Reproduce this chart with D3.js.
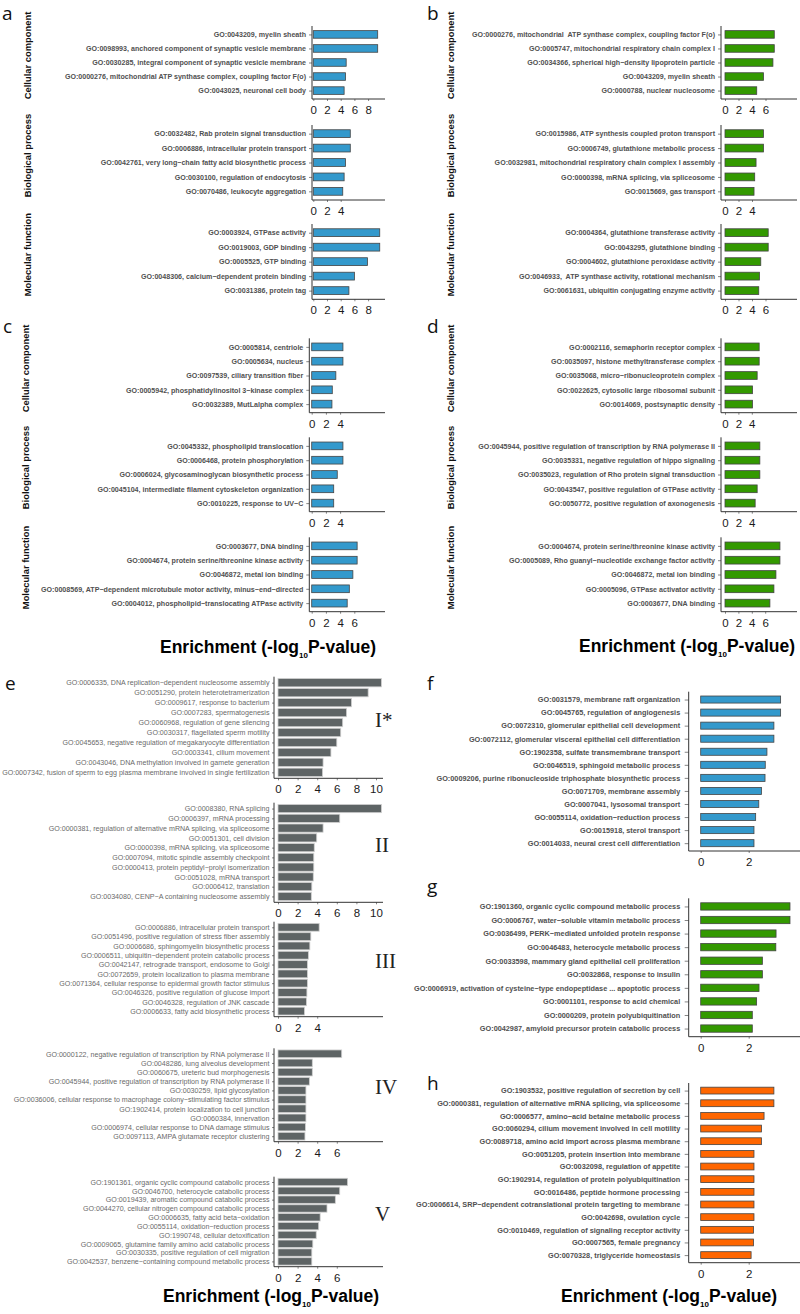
<!DOCTYPE html>
<html>
<head>
<meta charset="utf-8">
<script src="https://cdn.jsdelivr.net/npm/d3@7"></script>
<style>
  body { margin: 0; background: #fff; }
  svg text { font-family: "Liberation Sans", Arial, sans-serif; }
</style>
</head>
<body>
<div id="chart"></div>
<script>
// ---- data: GO term labels and enrichment values (-log10 P) ----
const facetNames = ["Cellular component", "Biological process", "Molecular function"];
const romanLabels = ["I*", "II", "III", "IV", "V"];

const aCC = ["GO:0043209, myelin sheath", "GO:0098993, anchored component of synaptic vesicle membrane", "GO:0030285, integral component of synaptic vesicle membrane", "GO:0000276, mitochondrial ATP synthase complex, coupling factor F(o)", "GO:0043025, neuronal cell body"];
const aCCVal = [9.4, 9.4, 4.8, 4.7, 4.5];
const aBP = ["GO:0032482, Rab protein signal transduction", "GO:0006886, intracellular protein transport", "GO:0042761, very long−chain fatty acid biosynthetic process", "GO:0030100, regulation of endocytosis", "GO:0070486, leukocyte aggregation"];
const aBPVal = [5.4, 5.4, 4.7, 4.5, 4.3];
const aMF = ["GO:0003924, GTPase activity", "GO:0019003, GDP binding", "GO:0005525, GTP binding", "GO:0048306, calcium−dependent protein binding", "GO:0031386, protein tag"];
const aMFVal = [9.7, 9.7, 7.9, 6.0, 5.2];

const bCC = ["GO:0000276, mitochondrial  ATP synthase complex, coupling factor F(o)", "GO:0005747, mitochondrial respiratory chain complex I", "GO:0034366, spherical high−density lipoprotein particle", "GO:0043209, myelin sheath", "GO:0000788, nuclear nucleosome"];
const bCCVal = [7.3, 7.3, 7.1, 5.7, 4.7];
const bBP = ["GO:0015986, ATP synthesis coupled proton transport", "GO:0006749, glutathione metabolic process", "GO:0032981, mitochondrial respiratory chain complex I assembly", "GO:0000398, mRNA splicing, via spliceosome", "GO:0015669, gas transport"];
const bBPVal = [5.7, 5.7, 4.6, 4.4, 4.3];
const bMF = ["GO:0004364, glutathione transferase activity", "GO:0043295, glutathione binding", "GO:0004602, glutathione peroxidase activity", "GO:0046933,  ATP synthase activity, rotational mechanism", "GO:0061631, ubiquitin conjugating enzyme activity"];
const bMFVal = [6.4, 6.4, 5.3, 5.1, 5.0];

const cCC = ["GO:0005814, centriole", "GO:0005634, nucleus", "GO:0097539, ciliary transition fiber", "GO:0005942, phosphatidylinositol 3−kinase complex", "GO:0032389, MutLalpha complex"];
const cCCVal = [4.4, 4.4, 3.4, 2.9, 2.85];
const cBP = ["GO:0045332, phospholipid translocation", "GO:0006468, protein phosphorylation", "GO:0006024, glycosaminoglycan biosynthetic process", "GO:0045104, intermediate filament cytoskeleton organization", "GO:0010225, response to UV−C"];
const cBPVal = [4.4, 4.4, 3.6, 3.1, 3.1];
const cMF = ["GO:0003677, DNA binding", "GO:0004674, protein serine/threonine kinase activity", "GO:0046872, metal ion binding", "GO:0008569, ATP−dependent microtubule motor activity, minus−end−directed", "GO:0004012, phospholipid−translocating ATPase activity"];
const cMFVal = [6.4, 6.4, 5.8, 5.3, 5.0];

const dCC = ["GO:0002116, semaphorin receptor complex", "GO:0035097, histone methyltransferase complex", "GO:0035068, micro−ribonucleoprotein complex", "GO:0022625, cytosolic large ribosomal subunit", "GO:0014069, postsynaptic density"];
const dCCVal = [5.1, 5.1, 4.8, 4.1, 4.1];
const dBP = ["GO:0045944, positive regulation of transcription by RNA polymerase II", "GO:0035331, negative regulation of hippo signaling", "GO:0035023, regulation of Rho protein signal transduction", "GO:0043547, positive regulation of GTPase activity", "GO:0050772, positive regulation of axonogenesis"];
const dBPVal = [5.2, 5.2, 5.2, 4.8, 4.5];
const dMF = ["GO:0004674, protein serine/threonine kinase activity", "GO:0005089, Rho guanyl−nucleotide exchange factor activity", "GO:0046872, metal ion binding", "GO:0005096, GTPase activator activity", "GO:0003677, DNA binding"];
const dMFVal = [8.2, 8.2, 7.6, 7.3, 6.7];

const eI = ["GO:0006335, DNA replication−dependent nucleosome assembly", "GO:0051290, protein heterotetramerization", "GO:0009617, response to bacterium", "GO:0007283, spermatogenesis", "GO:0060968, regulation of gene silencing", "GO:0030317, flagellated sperm motility", "GO:0045653, negative regulation of megakaryocyte differentiation", "GO:0003341, cilium movement", "GO:0043046, DNA methylation involved in gamete generation", "GO:0007342, fusion of sperm to egg plasma membrane involved in single fertilization"];
const eIVal = [10.55, 9.2, 7.5, 7.0, 6.6, 6.4, 6.0, 5.4, 4.6, 4.55];
const eII = ["GO:0008380, RNA splicing", "GO:0006397, mRNA processing", "GO:0000381, regulation of alternative mRNA splicing, via spliceosome", "GO:0051301, cell division", "GO:0000398, mRNA splicing, via spliceosome", "GO:0007094, mitotic spindle assembly checkpoint", "GO:0000413, protein peptidyl−prolyl isomerization", "GO:0051028, mRNA transport", "GO:0006412, translation", "GO:0034080, CENP−A containing nucleosome assembly"];
const eIIVal = [10.55, 6.3, 4.6, 3.95, 3.7, 3.65, 3.65, 3.6, 3.45, 3.4];
const eIII = ["GO:0006886, intracellular protein transport", "GO:0051496, positive regulation of stress fiber assembly", "GO:0006686, sphingomyelin biosynthetic process", "GO:0006511, ubiquitin−dependent protein catabolic process", "GO:0042147, retrograde transport, endosome to Golgi", "GO:0072659, protein localization to plasma membrane", "GO:0071364, cellular response to epidermal growth factor stimulus", "GO:0046326, positive regulation of glucose import", "GO:0046328, regulation of JNK cascade", "GO:0006633, fatty acid biosynthetic process"];
const eIIIVal = [4.2, 3.35, 3.25, 3.1, 3.0, 3.0, 3.0, 2.95, 2.9, 2.7];
const eIV = ["GO:0000122, negative regulation of transcription by RNA polymerase II", "GO:0048286, lung alveolus development", "GO:0060675, ureteric bud morphogenesis", "GO:0045944, positive regulation of transcription by RNA polymerase II", "GO:0030259, lipid glycosylation", "GO:0036006, cellular response to macrophage colony−stimulating factor stimulus", "GO:1902414, protein localization to cell junction", "GO:0060384, innervation", "GO:0006974, cellular response to DNA damage stimulus", "GO:0097113, AMPA glutamate receptor clustering"];
const eIVVal = [6.5, 3.5, 3.5, 3.2, 2.85, 2.85, 2.85, 2.85, 2.8, 2.75];
const eV = ["GO:1901361, organic cyclic compound catabolic process", "GO:0046700, heterocycle catabolic process", "GO:0019439, aromatic compound catabolic process", "GO:0044270, cellular nitrogen compound catabolic process", "GO:0006635, fatty acid beta−oxidation", "GO:0055114, oxidation−reduction process", "GO:1990748, cellular detoxification", "GO:0009065, glutamine family amino acid catabolic process", "GO:0030335, positive regulation of cell migration", "GO:0042537, benzene−containing compound metabolic process"];
const eVVal = [7.1, 6.3, 5.85, 5.0, 4.3, 4.15, 3.9, 3.55, 3.45, 3.45];

const fTerms = ["GO:0031579, membrane raft organization", "GO:0045765, regulation of angiogenesis", "GO:0072310, glomerular epithelial cell development", "GO:0072112, glomerular visceral epithelial cell differentiation", "GO:1902358, sulfate transmembrane transport", "GO:0046519, sphingoid metabolic process", "GO:0009206, purine ribonucleoside triphosphate biosynthetic process", "GO:0071709, membrane assembly", "GO:0007041, lysosomal transport", "GO:0055114, oxidation−reduction process", "GO:0015918, sterol transport", "GO:0014033, neural crest cell differentiation"];
const fVal = [3.33, 3.33, 3.05, 3.05, 2.76, 2.69, 2.68, 2.53, 2.42, 2.29, 2.22, 2.22];
const gTerms = ["GO:1901360, organic cyclic compound metabolic process", "GO:0006767, water−soluble vitamin metabolic process", "GO:0036499, PERK−mediated unfolded protein response", "GO:0046483, heterocycle metabolic process", "GO:0033598, mammary gland epithelial cell proliferation", "GO:0032868, response to insulin", "GO:0006919, activation of cysteine−type endopeptidase ... apoptotic process", "GO:0001101, response to acid chemical", "GO:0000209, protein polyubiquitination", "GO:0042987, amyloid precursor protein catabolic process"];
const gVal = [3.72, 3.72, 3.14, 3.13, 2.57, 2.57, 2.43, 2.33, 2.15, 2.15];
const hTerms = ["GO:1903532, positive regulation of secretion by cell", "GO:0000381, regulation of alternative mRNA splicing, via spliceosome", "GO:0006577, amino−acid betaine metabolic process", "GO:0060294, cilium movement involved in cell motility", "GO:0089718, amino acid import across plasma membrane", "GO:0051205, protein insertion into membrane", "GO:0032098, regulation of appetite", "GO:1902914, regulation of protein polyubiquitination", "GO:0016486, peptide hormone processing", "GO:0006614, SRP−dependent cotranslational protein targeting to membrane", "GO:0042698, ovulation cycle", "GO:0010469, regulation of signaling receptor activity", "GO:0007565, female pregnancy", "GO:0070328, triglyceride homeostasis"];
const hVal = [3.05, 3.05, 2.64, 2.53, 2.53, 2.22, 2.22, 2.22, 2.22, 2.22, 2.22, 2.2, 2.2, 2.1];

const ticksA = [[0, 2, 4, 6, 8], [0, 2, 4], [0, 2, 4, 6, 8]];
const ticksB = [[0, 2, 4, 6], [0, 2, 4], [0, 2, 4, 6]];
const ticksC = [[0, 2, 4], [0, 2, 4], [0, 2, 4, 6]];
const ticksD = [[0, 2, 4], [0, 2, 4], [0, 2, 4, 6]];
const ticksE = [[0, 2, 4, 6, 8, 10], [0, 2, 4, 6, 8, 10], [0, 2, 4], [0, 2, 4, 6], [0, 2, 4, 6]];
const ticksFGH = [0, 2];

// ---- styles ----
const blue = "#3399cc", green = "#339900", orange = "#ff6600", grey = "#5e6465";
const boldStyle = { fontSize: 7.1, weight: "bold", textFill: "#505050", tickLen: 3, pad: 3, barFrac: 0.54, stroke: "#444", sw: 0.8 };
const lightStyle = { fontSize: 7.1, weight: "normal", textFill: "#6a6a6a", tickLen: 2, pad: 2.5, barFrac: 0.84, stroke: "#d0d0d0", sw: 0.8 };
const fghStyle = Object.assign({}, boldStyle, { fontSize: 7.3, tickLen: 4, pad: 4.5 });

const svg = d3.select("#chart").append("svg")
  .attr("width", 800)
  .attr("height", 1314);

function drawPlot(p) {
  const y = d3.scalePoint().domain(p.labels).range([p.top, p.bottom]).padding(0.6);
  const x = d3.scaleLinear().domain([0, 1]).range([p.x0, p.x0 + p.ppu]);
  const bh = y.step() * p.barFrac;
  const g = svg.append("g");

  g.append("g").selectAll("rect")
    .data(p.values)
    .join("rect")
    .attr("x", x(0))
    .attr("y", (d, i) => y(p.labels[i]) - bh / 2)
    .attr("width", d => x(d) - x(0))
    .attr("height", bh)
    .attr("fill", p.color)
    .attr("stroke", p.stroke)
    .attr("stroke-width", p.sw);

  const left = g.append("g")
    .attr("transform", "translate(" + p.axisX + ",0)")
    .call(d3.axisLeft(y).tickSize(p.tickLen).tickPadding(p.pad));
  left.select(".domain").remove();
  left.selectAll("line").attr("stroke", "#333").attr("stroke-width", 0.6);
  left.selectAll("text")
    .attr("font-size", p.fontSize)
    .attr("font-weight", p.weight)
    .attr("fill", p.textFill)
    .style("white-space", "pre");

  const bottom = g.append("g")
    .attr("transform", "translate(0," + p.bottom + ")")
    .call(d3.axisBottom(x).tickValues(p.ticks).tickSize(2).tickPadding(5).tickFormat(d3.format("d")));
  bottom.select(".domain").remove();
  bottom.selectAll("line").attr("stroke", "#333").attr("stroke-width", 0.6);
  bottom.selectAll("text")
    .attr("font-size", 11.5)
    .attr("fill", "#1a1a1a");

  g.append("line")
    .attr("x1", p.axisX).attr("x2", p.axisX)
    .attr("y1", p.top).attr("y2", p.bottom)
    .attr("stroke", "#333").attr("stroke-width", 1);
  g.append("line")
    .attr("x1", p.axisX).attr("x2", p.right)
    .attr("y1", p.bottom).attr("y2", p.bottom)
    .attr("stroke", "#333").attr("stroke-width", 1);
}

function panelLetter(txt, x, y) {
  svg.append("text").attr("x", x).attr("y", y)
    .style("font-family", "'Open Sans', sans-serif")
    .attr("font-size", 19)
    .attr("fill", "#111")
    .text(txt);
}

function axisTitle(x, y) {
  const t = svg.append("text").attr("x", x).attr("y", y)
    .attr("font-weight", "bold")
    .attr("font-size", 17.5)
    .attr("fill", "#000");
  t.append("tspan").text("Enrichment (-log");
  t.append("tspan").attr("dy", 5).attr("font-size", 8).text("10");
  t.append("tspan").attr("dy", -5).text("P-value)");
}

// panels a-d: three GO categories each
const gridPanels = [
  { letter: "a", lx: 2, ly: 20, sets: [[aCC, aCCVal], [aBP, aBPVal], [aMF, aMFVal]], ticks: ticksA,
    spans: [[26, 99], [125, 200], [224, 299.3]], x0: 313.3, ppu: 6.85, axisX: 312, right: 385, color: blue, facetX: 31 },
  { letter: "b", lx: 427, ly: 20, sets: [[bCC, bCCVal], [bBP, bBPVal], [bMF, bMFVal]], ticks: ticksB,
    spans: [[26, 99], [125, 200], [224, 299.3]], x0: 725, ppu: 6.75, axisX: 721, right: 797, color: green, facetX: 454 },
  { letter: "c", lx: 3, ly: 333, sets: [[cCC, cCCVal], [cBP, cBPVal], [cMF, cMFVal]], ticks: ticksC,
    spans: [[338.3, 412.7], [437.3, 511.7], [537.3, 611.7]], x0: 311.7, ppu: 7.1, axisX: 309.3, right: 385, color: blue, facetX: 29 },
  { letter: "d", lx: 427, ly: 333, sets: [[dCC, dCCVal], [dBP, dBPVal], [dMF, dMFVal]], ticks: ticksD,
    spans: [[338.3, 412.7], [437.3, 511.7], [537.3, 611.7]], x0: 725, ppu: 6.7, axisX: 721, right: 797, color: green, facetX: 454 }
];

gridPanels.forEach(pn => {
  panelLetter(pn.letter, pn.lx, pn.ly);
  pn.sets.forEach((s, i) => {
    const [top, bot] = pn.spans[i];
    drawPlot(Object.assign({}, boldStyle, {
      labels: s[0], values: s[1], ticks: pn.ticks[i], top: top, bottom: bot,
      x0: pn.x0, ppu: pn.ppu, axisX: pn.axisX, right: pn.right, color: pn.color
    }));
    const cy = (top + bot) / 2 - 7;
    svg.append("text")
      .attr("transform", "translate(" + pn.facetX + "," + cy + ") rotate(-90)")
      .attr("text-anchor", "middle")
      .attr("font-weight", "bold")
      .attr("font-size", 9.4)
      .attr("fill", "#111")
      .text(facetNames[i]);
  });
});

axisTitle(160, 653);
axisTitle(579, 652);

// panel e: five gene clusters
panelLetter("e", 5, 690);
const eSets = [[eI, eIVal], [eII, eIIVal], [eIII, eIIIVal], [eIV, eIVVal], [eV, eVVal]];
const eSpans = [[676.7, 778.3], [802.7, 902.3], [921.7, 1016.7], [1048.3, 1141.7], [1176.7, 1266.7]];
eSets.forEach((s, i) => {
  const [top, bot] = eSpans[i];
  drawPlot(Object.assign({}, lightStyle, {
    labels: s[0], values: s[1], ticks: ticksE[i], top: top, bottom: bot,
    x0: 278, ppu: 9.8, axisX: 274, right: 383, color: grey
  }));
  svg.append("text")
    .attr("x", 375).attr("y", (top + bot) / 2 - 1)
    .style("font-family", "'Liberation Serif', 'Times New Roman', serif")
    .attr("font-size", 21)
    .attr("fill", "#222")
    .text(romanLabels[i]);
});
axisTitle(163, 1302);

// panels f-h
const sidePanels = [
  { letter: "f", ly: 690, labels: fTerms, values: fVal, top: 691.7, bottom: 851, color: blue },
  { letter: "g", ly: 893, labels: gTerms, values: gVal, top: 898.3, bottom: 1036.7, color: green },
  { letter: "h", ly: 1090, labels: hTerms, values: hVal, top: 1083, bottom: 1262.7, color: orange }
];
sidePanels.forEach(pn => {
  panelLetter(pn.letter, 427, pn.ly);
  drawPlot(Object.assign({}, fghStyle, {
    labels: pn.labels, values: pn.values, ticks: ticksFGH, top: pn.top, bottom: pn.bottom,
    x0: 700.7, ppu: 24, axisX: 688.7, right: 800, color: pn.color
  }));
});
axisTitle(561, 1302);
</script>
</body>
</html>
